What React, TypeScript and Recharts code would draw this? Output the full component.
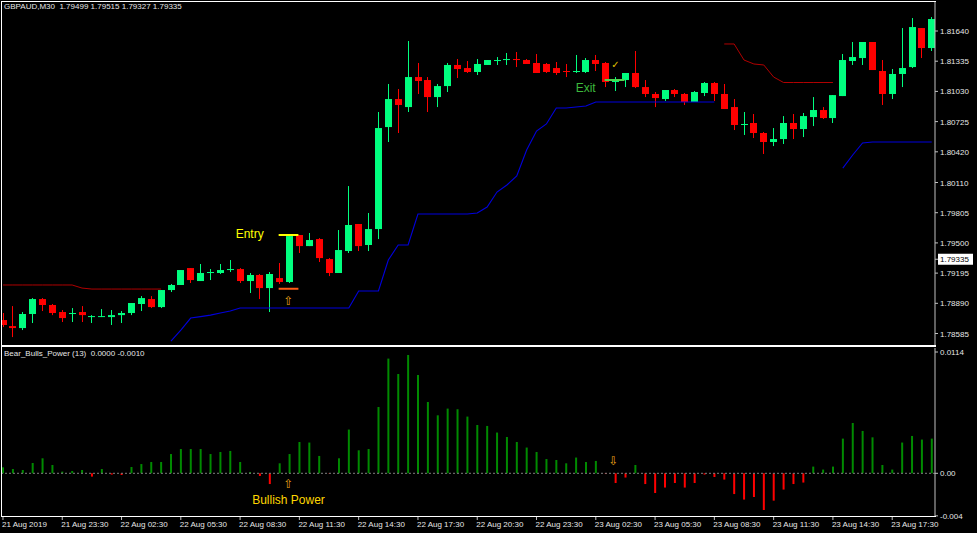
import { ComposedChart, Bar, Line, XAxis, YAxis, ReferenceLine, ReferenceDot, Cell } from 'recharts';

// GBPAUD M30, 95 bars from 21 Aug 20:30 to 23 Aug 19:30
const opens = [
  1.78721, 1.78660, 1.78640, 1.78782, 1.78933, 1.78873, 1.78802, 1.78787, 1.78802, 1.78756,
  1.78756, 1.78751, 1.78771, 1.78792, 1.78883, 1.78933, 1.78852, 1.79024, 1.79075, 1.79246,
  1.79115, 1.79196, 1.79196, 1.79231, 1.79236, 1.79115, 1.79176, 1.79044, 1.79145, 1.79105,
  1.79580, 1.79468, 1.79539, 1.79337, 1.79196, 1.79418, 1.79691, 1.79479, 1.79640, 1.80670,
  1.80953, 1.80872, 1.81175, 1.81145, 1.80973, 1.81084, 1.81297, 1.81266, 1.81226, 1.81297,
  1.81342, 1.81352, 1.81357, 1.81347, 1.81317, 1.81307, 1.81266, 1.81236, 1.81231, 1.81226,
  1.81347, 1.81317, 1.81130, 1.81145, 1.81216, 1.81074, 1.81004, 1.80953, 1.81044, 1.81004,
  1.80923, 1.81014, 1.81115, 1.81004, 1.80872, 1.80696, 1.80711, 1.80610, 1.80519, 1.80549,
  1.80711, 1.80650, 1.80771, 1.80842, 1.80761, 1.80983, 1.81337, 1.81367, 1.81529, 1.81236,
  1.81004, 1.81206, 1.81276, 1.81670, 1.81468,
];
const highs = [
  1.78792, 1.78862, 1.78802, 1.78943, 1.78943, 1.78883, 1.78822, 1.78842, 1.78862, 1.78771,
  1.78832, 1.78822, 1.78812, 1.78893, 1.78963, 1.78963, 1.79024, 1.79085, 1.79226, 1.79246,
  1.79287, 1.79236, 1.79287, 1.79327, 1.79246, 1.79196, 1.79186, 1.79206, 1.79297, 1.79580,
  1.79580, 1.79600, 1.79549, 1.79347, 1.79630, 1.80074, 1.79691, 1.79802, 1.80822, 1.81105,
  1.81054, 1.81539, 1.81317, 1.81175, 1.81105, 1.81317, 1.81357, 1.81337, 1.81357, 1.81347,
  1.81377, 1.81418, 1.81428, 1.81357, 1.81408, 1.81317, 1.81327, 1.81307, 1.81398, 1.81367,
  1.81398, 1.81327, 1.81175, 1.81216, 1.81438, 1.81145, 1.81024, 1.81044, 1.81054, 1.81014,
  1.81034, 1.81125, 1.81125, 1.81105, 1.80953, 1.80822, 1.80802, 1.80620, 1.80660, 1.80781,
  1.80802, 1.80812, 1.80973, 1.80872, 1.80993, 1.81408, 1.81529, 1.81529, 1.81529, 1.81347,
  1.81256, 1.81670, 1.81771, 1.81670, 1.81781,
];
const lows = [
  1.78650, 1.78549, 1.78620, 1.78691, 1.78812, 1.78771, 1.78701, 1.78701, 1.78701, 1.78691,
  1.78751, 1.78671, 1.78691, 1.78771, 1.78812, 1.78842, 1.78842, 1.79004, 1.79075, 1.79095,
  1.79115, 1.79125, 1.79186, 1.79206, 1.79095, 1.78994, 1.78933, 1.78802, 1.79085, 1.79095,
  1.79398, 1.79468, 1.79307, 1.79165, 1.79196, 1.79398, 1.79418, 1.79418, 1.79539, 1.80519,
  1.80610, 1.80822, 1.81004, 1.80822, 1.80872, 1.81024, 1.81165, 1.81216, 1.81196, 1.81297,
  1.81297, 1.81297, 1.81276, 1.81307, 1.81216, 1.81216, 1.81196, 1.81175, 1.81216, 1.81216,
  1.81236, 1.81074, 1.81034, 1.81074, 1.81064, 1.80973, 1.80872, 1.80933, 1.80973, 1.80893,
  1.80923, 1.80983, 1.80933, 1.80852, 1.80640, 1.80590, 1.80559, 1.80398, 1.80478, 1.80499,
  1.80549, 1.80569, 1.80680, 1.80751, 1.80711, 1.80983, 1.81297, 1.81297, 1.81246, 1.80893,
  1.80953, 1.81074, 1.81266, 1.81367, 1.81438,
];
const closes = [
  1.78671, 1.78640, 1.78782, 1.78933, 1.78873, 1.78792, 1.78741, 1.78792, 1.78771, 1.78761,
  1.78761, 1.78771, 1.78792, 1.78893, 1.78943, 1.78852, 1.79024, 1.79075, 1.79226, 1.79125,
  1.79196, 1.79206, 1.79226, 1.79236, 1.79115, 1.79176, 1.79044, 1.79186, 1.79105, 1.79569,
  1.79468, 1.79529, 1.79347, 1.79196, 1.79428, 1.79681, 1.79468, 1.79640, 1.80660, 1.80953,
  1.80893, 1.81175, 1.81135, 1.80973, 1.81084, 1.81297, 1.81256, 1.81226, 1.81307, 1.81347,
  1.81347, 1.81357, 1.81352, 1.81307, 1.81216, 1.81226, 1.81216, 1.81231, 1.81236, 1.81347,
  1.81307, 1.81125, 1.81135, 1.81216, 1.81074, 1.81004, 1.80963, 1.81044, 1.81004, 1.80923,
  1.81024, 1.81115, 1.81004, 1.80852, 1.80691, 1.80701, 1.80610, 1.80519, 1.80549, 1.80711,
  1.80650, 1.80781, 1.80842, 1.80761, 1.80993, 1.81347, 1.81377, 1.81529, 1.81246, 1.81004,
  1.81206, 1.81266, 1.81680, 1.81468, 1.81761,
];

// trailing stop lines (blue below price, red above)
const support = [
  null, null, null, null, null, null, null, null, null, null,
  null, null, null, null, null, null, null, 1.78509, 1.78620, 1.78741,
  1.78756, 1.78771, 1.78792, 1.78812, 1.78842, 1.78842, 1.78842, 1.78842, 1.78842, 1.78842,
  1.78842, 1.78842, 1.78842, 1.78842, 1.78842, 1.78842, 1.79014, 1.79014, 1.79014, 1.79327,
  1.79479, 1.79479, 1.79792, 1.79792, 1.79792, 1.79792, 1.79792, 1.79792, 1.79802, 1.79862,
  1.80014, 1.80085, 1.80176, 1.80438, 1.80630, 1.80701, 1.80862, 1.80862, 1.80872, 1.80882,
  1.80923, 1.80923, 1.80923, 1.80923, 1.80923, 1.80923, 1.80923, 1.80923, 1.80923, 1.80923,
  1.80923, 1.80923, 1.80923, null, null, null, null, null, null, null,
  null, null, null, null, null, 1.80256, 1.80388, 1.80509, 1.80519, 1.80519,
  1.80519, 1.80519, 1.80519, 1.80519, 1.80519,
];
const resistance = [
  1.79075, 1.79075, 1.79075, 1.79075, 1.79075, 1.79075, 1.79075, 1.79075, 1.79044, 1.79034,
  1.79034, 1.79034, 1.79034, 1.79034, 1.79034, 1.79034, 1.79034, null, null, null,
  null, null, null, null, null, null, null, null, null, null,
  null, null, null, null, null, null, null, null, null, null,
  null, null, null, null, null, null, null, null, null, null,
  null, null, null, null, null, null, null, null, null, null,
  null, null, null, null, null, null, null, null, null, null,
  null, null, null, 1.81509, 1.81509, 1.81347, 1.81307, 1.81297, 1.81175, 1.81120,
  1.81120, 1.81120, 1.81120, 1.81120, 1.81120, null, null, null, null, null,
  null, null, null, null, null,
];

// Bear_Bulls_Power (13)
const power = [
  0.00056, 0.00040, 0.00031, 0.00097, 0.00141, 0.00078, 0.00016, 0.00022, 0.00031, -0.00031,
  0.00040, -0.00012, -0.00016, 0.00059, 0.00087, 0.00106, 0.00106, 0.00181, 0.00228, 0.00228,
  0.00228, 0.00181, 0.00200, 0.00210, 0.00106, 0.00012, -0.00025, -0.00101, 0.00094, 0.00181,
  0.00294, 0.00289, 0.00163, -0.00003, 0.00141, 0.00411, 0.00216, 0.00228, 0.00623, 0.01078,
  0.00933, 0.01112, 0.00924, 0.00670, 0.00545, 0.00608, 0.00602, 0.00533, 0.00454, 0.00445,
  0.00383, 0.00341, 0.00294, 0.00242, 0.00200, 0.00134, 0.00125, 0.00094, 0.00148, 0.00106,
  0.00116, -0.00007, -0.00091, -0.00040, 0.00078, -0.00101, -0.00185, -0.00134, -0.00091, -0.00134,
  -0.00091, -0.00012, -0.00035, -0.00059, -0.00195, -0.00247, -0.00223, -0.00345, -0.00257, -0.00153,
  -0.00101, -0.00087, 0.00063, 0.00035, 0.00063, 0.00326, 0.00473, 0.00398, 0.00338, 0.00078,
  0.00035, 0.00289, 0.00351, 0.00317, 0.00326,
];

const timeLabels = [
  '21 Aug 2019', '21 Aug 23:30', '22 Aug 02:30', '22 Aug 05:30', '22 Aug 08:30', '22 Aug 11:30',
  '22 Aug 14:30', '22 Aug 17:30', '22 Aug 20:30', '22 Aug 23:30', '23 Aug 02:30', '23 Aug 05:30',
  '23 Aug 08:30', '23 Aug 11:30', '23 Aug 14:30', '23 Aug 17:30',
];
const priceTicks = [1.78585, 1.7889, 1.79195, 1.795, 1.79805, 1.8011, 1.8042, 1.80725, 1.8103, 1.81335, 1.8164];
const lastPrice = 1.79335;
const powerTicks = [0.0114, 0, -0.004];

const entryBar = 29;
const entryPrice = 1.7958;
const stopPrice = 1.79037;
const exitBar = 62;
const exitPrice = 1.81145;

const data = opens.map((open, i) => ({
  i,
  open,
  high: highs[i],
  low: lows[i],
  close: closes[i],
  support: support[i],
  resistance: resistance[i],
  power: power[i],
}));

const FONT = '"Liberation Sans", Arial, sans-serif';
const UP = '#00ff7f';
const DOWN = '#ff0000';
const AXIS = '#c0c0c0';
const TEXT = '#e6e6e6';
const X_DOMAIN: [number, number] = [-0.2, 94.33];

const Candle = (props: any) => {
  const { x, y, width, height, payload } = props;
  const { open, close, high, low } = payload;
  const top = Math.min(y, y + height);
  const h = Math.abs(height);
  const px = (v: number) => top + ((high - v) / (high - low)) * h;
  const color = close >= open ? UP : DOWN;
  const cx = Math.round(x + width / 2) + 0.5;
  const bTop = px(Math.max(open, close));
  const bBot = px(Math.min(open, close));
  return (
    <g>
      <line x1={cx} x2={cx} y1={top} y2={top + h} stroke={color} strokeWidth={1} />
      <rect x={cx - 3.5} y={bTop} width={7} height={Math.max(1, bBot - bTop)} fill={color} />
    </g>
  );
};

const note =
  (text: string, color: string, size: number, anchor: 'start' | 'middle' | 'end', dx: number, dy: number, family = FONT) =>
  (p: any) => {
    const vb = p.viewBox || { x: 0, y: 0 };
    const cx = vb.x + (vb.width || 0) / 2;
    const cy = vb.y + (vb.height || 0) / 2;
    return (
      <text x={cx + dx} y={cy + dy} fill={color} fontSize={size} fontFamily={family} textAnchor={anchor} dominantBaseline="central">
        {text}
      </text>
    );
  };

const PriceTick = (props: any) => {
  const { x, y, payload } = props;
  const v = payload.value;
  if (v === lastPrice) {
    return (
      <g>
        <rect x={x - 1} y={y - 5.5} width={35} height={11} fill="#ffffff" />
        <text x={x + 1} y={y} dy={3} fill="#000000" fontSize={8} fontFamily={FONT}>
          {v.toFixed(5)}
        </text>
      </g>
    );
  }
  return (
    <text x={x + 1} y={y} dy={3} fill={TEXT} fontSize={8} fontFamily={FONT}>
      {v.toFixed(5)}
    </text>
  );
};

const PowerTick = (props: any) => {
  const { x, y, payload } = props;
  const v = payload.value;
  const label = v === 0 ? '0.00' : v > 0 ? v.toFixed(4) : v.toFixed(3);
  return (
    <text x={x + 1} y={y} dy={3} fill={TEXT} fontSize={8} fontFamily={FONT}>
      {label}
    </text>
  );
};

const TimeTick = (props: any) => {
  const { x, y, payload } = props;
  return (
    <text x={x - 1} y={y} dy={7} fill={TEXT} fontSize={8} fontFamily={FONT} textAnchor="start">
      {timeLabels[Math.round(payload.value / 6)]}
    </text>
  );
};

export default function App() {
  return (
    <div style={{ position: 'fixed', left: 0, top: 0, width: 977, height: 533, background: '#000', overflow: 'hidden' }}>
      <div style={{ position: 'absolute', left: 0, top: 0 }}>
        <ComposedChart width={977} height={346} data={data} margin={{ top: 2, right: 0, bottom: 1, left: 1 }}>
          <XAxis dataKey="i" type="number" domain={X_DOMAIN} allowDataOverflow hide />
          <YAxis
            orientation="right"
            width={42}
            domain={[1.78469, 1.81933]}
            allowDataOverflow
            ticks={[...priceTicks, lastPrice]}
            interval={0}
            tick={<PriceTick />}
            tickSize={3}
            tickMargin={1}
            axisLine={{ stroke: AXIS }}
            tickLine={{ stroke: AXIS }}
          />
          <Line dataKey="resistance" stroke="#b00000" strokeWidth={1} dot={false} isAnimationActive={false} connectNulls={false} />
          <Line dataKey="support" stroke="#0000dd" strokeWidth={1.1} dot={false} isAnimationActive={false} connectNulls={false} />
          <Bar dataKey={(d: any) => [d.low, d.high]} barSize={7} shape={<Candle />} isAnimationActive={false} />
          <ReferenceLine
            segment={[{ x: entryBar - 1.1, y: entryPrice }, { x: entryBar + 0.9, y: entryPrice }]}
            stroke="#ffff00"
            strokeWidth={2}
          />
          <ReferenceLine
            segment={[{ x: entryBar - 1.1, y: stopPrice }, { x: entryBar + 0.9, y: stopPrice }]}
            stroke="#ff5a14"
            strokeWidth={2}
          />
          <ReferenceLine
            segment={[{ x: exitBar - 1.1, y: exitPrice }, { x: exitBar + 0.9, y: exitPrice }]}
            stroke="#4fd64f"
            strokeWidth={2}
          />
          <ReferenceDot x={entryBar - 1.1} y={entryPrice} r={0} stroke="none" fill="none" label={note('Entry', '#ffff00', 12, 'end', -15, -1)} />
          <ReferenceDot x={entryBar} y={stopPrice} r={0} stroke="none" fill="none" label={note('⇧', '#e8a317', 12, 'middle', -1, 12, '"DejaVu Sans"')} />
          <ReferenceDot x={exitBar - 1.1} y={exitPrice} r={0} stroke="none" fill="none" label={note('Exit', '#3cb83c', 12, 'end', -9, 8)} />
          <ReferenceDot x={exitBar} y={exitPrice} r={0} stroke="none" fill="none" label={note('✓', '#e0c000', 10, 'middle', 0, -16, '"DejaVu Sans"')} />
        </ComposedChart>
      </div>
      <div style={{ position: 'absolute', left: 0, top: 346 }}>
        <ComposedChart width={977} height={187} data={data} margin={{ top: 2, right: 0, bottom: 0, left: 1 }}>
          <XAxis
            dataKey="i"
            type="number"
            domain={X_DOMAIN}
            allowDataOverflow
            ticks={timeLabels.map((_, k) => k * 6)}
            interval={0}
            height={16}
            tick={<TimeTick />}
            tickSize={3}
            tickMargin={0}
            axisLine={false}
            tickLine={{ stroke: AXIS }}
          />
          <YAxis
            orientation="right"
            width={42}
            domain={[-0.004107, 0.011776]}
            allowDataOverflow
            ticks={powerTicks}
            interval={0}
            tick={<PowerTick />}
            tickSize={3}
            tickMargin={1}
            axisLine={{ stroke: AXIS }}
            tickLine={{ stroke: AXIS }}
          />
          <ReferenceLine y={0} stroke="#808080" strokeDasharray="2 2" />
          <Bar dataKey="power" barSize={2} isAnimationActive={false}>
            {data.map((d) => (
              <Cell key={d.i} fill={d.power >= 0 ? '#008a00' : '#ff0000'} />
            ))}
          </Bar>
          <ReferenceDot x={entryBar} y={0} r={0} stroke="none" fill="none" label={note('⇧', '#e8a317', 12, 'middle', -1, 11, '"DejaVu Sans"')} />
          <ReferenceDot x={entryBar} y={0} r={0} stroke="none" fill="none" label={note('Bullish Power', '#ffd700', 12, 'middle', -1, 27)} />
          <ReferenceDot x={exitBar} y={0} r={0} stroke="none" fill="none" label={note('⇩', '#e8a317', 12, 'middle', -2, -12, '"DejaVu Sans"')} />
        </ComposedChart>
      </div>
      {/* panel frames */}
      <div style={{ position: 'absolute', left: 1, top: 1, width: 935, height: 1, background: '#fff' }} />
      <div style={{ position: 'absolute', left: 1, top: 1, width: 1, height: 516, background: '#fff' }} />
      <div style={{ position: 'absolute', left: 1, top: 345, width: 935, height: 2, background: '#fff' }} />
      <div style={{ position: 'absolute', left: 1, top: 516, width: 935, height: 1, background: '#fff' }} />
      <div style={{ position: 'absolute', left: 4, top: 2, color: TEXT, font: `8px ${FONT}`, whiteSpace: 'pre' }}>
        {'GBPAUD,M30  1.79499 1.79515 1.79327 1.79335'}
      </div>
      <div style={{ position: 'absolute', left: 4, top: 349, color: TEXT, font: `8px ${FONT}`, whiteSpace: 'pre' }}>
        {'Bear_Bulls_Power (13)  0.0000 -0.0010'}
      </div>
    </div>
  );
}
